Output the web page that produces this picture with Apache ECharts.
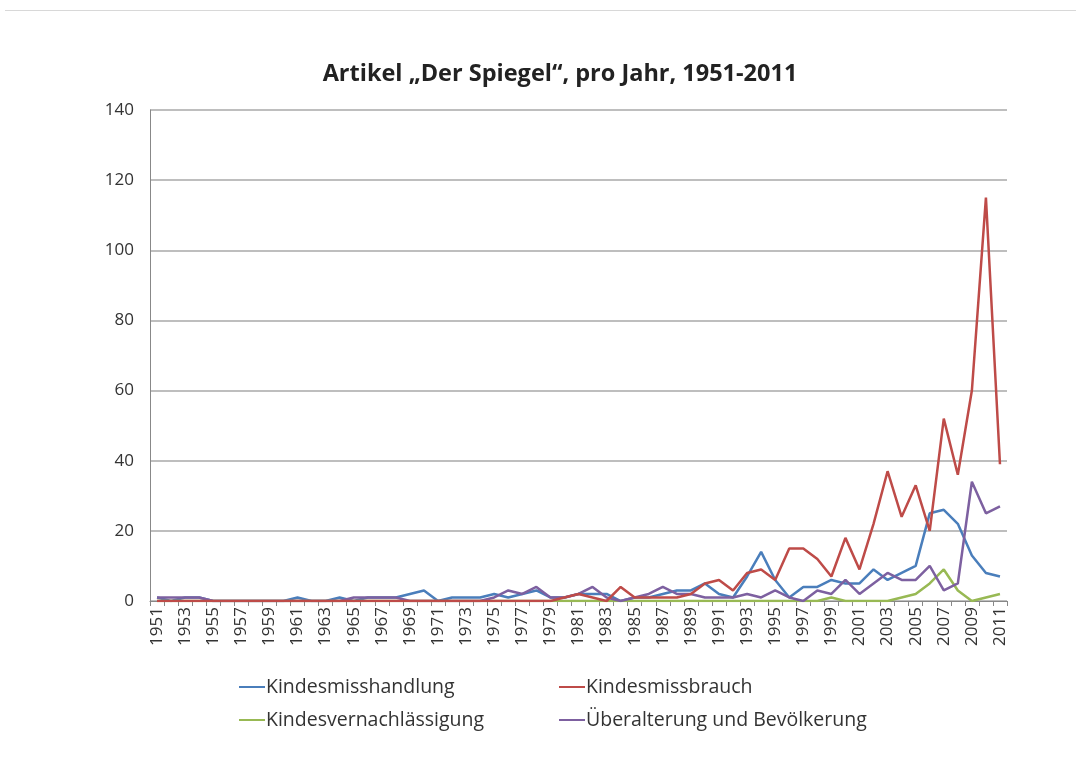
<!DOCTYPE html>
<html>
<head>
<meta charset="utf-8">
<script src="https://cdn.jsdelivr.net/npm/echarts@6/dist/echarts.min.js"></script>
<style>
  html, body { margin: 0; padding: 0; background: #fff; }
  #main { width: 1076px; height: 771px; }
</style>
</head>
<body>
<div id="main"></div>
<script>
// Jahre 1951-2011
var years = [];
for (var y = 1951; y <= 2011; y++) years.push(String(y));

var misshandlung = [1,0,1,1,0,0,0,0,0,0,1,0,0,1,0,1,1,1,2,3,0,1,1,1,2,1,2,3,1,1,2,2,2,0,1,1,2,3,3,5,2,1,7,14,6,1,4,4,6,5,5,9,6,8,10,25,26,22,13,8,7];
var missbrauch   = [0,0,0,0,0,0,0,0,0,0,0,0,0,0,0,0,0,0,0,0,0,0,0,0,0,0,0,0,0,1,2,1,0,4,1,1,1,1,2,5,6,3,8,9,6,15,15,12,7,18,9,22,37,24,33,20,52,36,60,115,39];
var vernachl     = [0,0,0,0,0,0,0,0,0,0,0,0,0,0,0,0,0,0,0,0,0,0,0,0,0,0,0,0,0,0,0,0,0,0,0,0,0,0,0,0,0,0,0,0,0,0,0,0,1,0,0,0,0,1,2,5,9,3,0,1,2];
var ueberalterung= [1,1,1,1,0,0,0,0,0,0,0,0,0,0,1,1,1,1,0,0,0,0,0,0,1,3,2,4,1,1,2,4,1,0,1,2,4,2,2,1,1,1,2,1,3,1,0,3,2,6,2,5,8,6,6,10,3,5,34,25,27];

var seriesNames = ["Kindesmisshandlung", "Kindesmissbrauch", "Kindesvernachlässigung", "Überalterung und Bevölkerung"];
var colors = ["#4a7ebb", "#be4b48", "#98b954", "#7d60a0"];

var myChart = echarts.init(document.getElementById("main"));

function mkSeries(i, data) {
  return {
    name: seriesNames[i],
    type: "line",
    data: data,
    symbol: "none",
    lineStyle: { width: 2.5, color: colors[i] },
    itemStyle: { color: colors[i] },
    z: i == 1 ? 3 : 2
  };
}

function mkLegend(name, left, top) {
  return {
    data: [name],
    left: left,
    top: top,
    icon: "rect",
    itemWidth: 26,
    itemHeight: 2,
    itemGap: 0,
    textStyle: { fontFamily: "Open Sans", fontSize: 19.5, color: "#333", padding: [0, 0, 0, -4] }
  };
}

myChart.setOption({
  animation: false,
  backgroundColor: "#fff",
  title: {
    text: "Artikel „Der Spiegel“, pro Jahr, 1951-2011",
    left: 555,
    textAlign: "center",
    top: 57,
    textStyle: { fontFamily: "Open Sans", fontSize: 23.5, fontWeight: "bold", color: "#222" }
  },
  graphic: [
    { type: "rect", shape: { x: 5, y: 10, width: 1071, height: 1 }, style: { fill: "#d8d8d8" } }
  ],
  legend: [
    mkLegend(seriesNames[0], 234, 672),
    mkLegend(seriesNames[1], 554, 672),
    mkLegend(seriesNames[2], 234, 705),
    mkLegend(seriesNames[3], 554, 705)
  ],
  grid: { left: 150, right: 69, top: 110, bottom: 170 },
  xAxis: {
    type: "category",
    data: years,
    boundaryGap: true,
    axisLine: { lineStyle: { color: "#888", width: 1 } },
    axisTick: { show: true, interval: 0, length: 5, lineStyle: { color: "#888" } },
    axisLabel: { interval: 1, rotate: 90, fontFamily: "Open Sans", fontSize: 17, color: "#333", margin: 6 }
  },
  yAxis: {
    type: "value",
    min: 0,
    max: 140,
    interval: 20,
    axisLine: { show: true, lineStyle: { color: "#888" } },
    axisTick: { show: false },
    axisLabel: { fontFamily: "Open Sans", fontSize: 17, color: "#333", margin: 16 },
    splitLine: { lineStyle: { color: "#a8a8a8", width: 1.5 } }
  },
  series: [
    mkSeries(0, misshandlung),
    mkSeries(1, missbrauch),
    mkSeries(2, vernachl),
    mkSeries(3, ueberalterung)
  ]
});
</script>
</body>
</html>
